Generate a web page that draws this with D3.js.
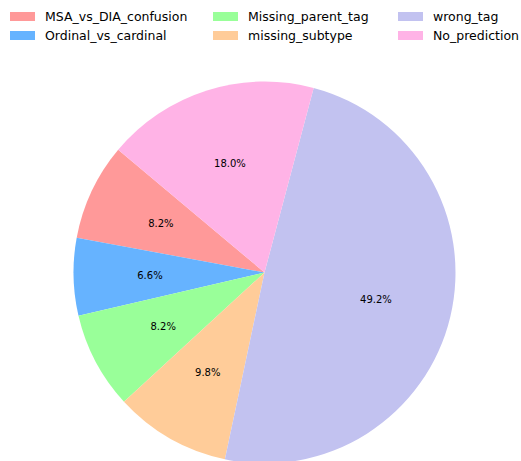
<!DOCTYPE html>
<html>
<head>
<meta charset="utf-8">
<script src="https://cdn.jsdelivr.net/npm/d3@7"></script>
<style>
  html, body { margin: 0; padding: 0; background: #fff; }
  svg { display: block; }
  text { font-family: "DejaVu Sans", sans-serif; }
</style>
</head>
<body>
<svg id="chart" width="521" height="461"></svg>
<script>
const categories = ["MSA_vs_DIA_confusion", "Ordinal_vs_cardinal", "Missing_parent_tag", "missing_subtype", "wrong_tag", "No_prediction"];
const counts = [5, 4, 5, 6, 30, 11];
const colors = ["#ff9999", "#66b3ff", "#99ff99", "#ffcc99", "#c2c2f0", "#ffb3e6"];
const startAngleDeg = 140; // matplotlib-style: from 3 o'clock, counterclockwise

const W = 521, H = 461;
const cx = 264.5, cy = 272.5, R = 191;

const svg = d3.select("#chart");
const data = categories.map((c, i) => ({ name: c, value: counts[i], color: colors[i] }));
const total = d3.sum(counts);

const toRad = d => d * Math.PI / 180;
const d3Start = toRad(90 - startAngleDeg);
const pie = d3.pie().sort(null).value(d => d.value)
  .startAngle(d3Start).endAngle(d3Start - 2 * Math.PI);
const arcs = pie(data);

const arc = d3.arc().innerRadius(0).outerRadius(R);
const labelArc = d3.arc().innerRadius(R * 0.6).outerRadius(R * 0.6);

const g = svg.append("g").attr("transform", `translate(${cx},${cy})`);
g.selectAll("path").data(arcs).enter().append("path")
  .attr("d", arc)
  .attr("fill", d => d.data.color);

g.selectAll("text.pct").data(arcs).enter().append("text")
  .attr("class", "pct")
  .attr("transform", d => `translate(${labelArc.centroid(d)})`)
  .attr("text-anchor", "middle")
  .attr("dominant-baseline", "central")
  .attr("font-size", "10px")
  .attr("fill", "#000")
  .text(d => (d.data.value / total * 100).toFixed(1) + "%");

// Legend: 3 columns x 2 rows, column-major
const colX = [10, 213, 398];
const rowY = [16.5, 35.5];
const leg = svg.append("g");
data.forEach((d, i) => {
  const col = Math.floor(i / 2), row = i % 2;
  const x = colX[col], y = rowY[row];
  leg.append("rect").attr("x", x).attr("y", y - 4.5).attr("width", 25).attr("height", 9).attr("fill", d.color);
  leg.append("text").attr("x", x + 35).attr("y", y)
    .attr("dominant-baseline", "central")
    .attr("font-size", "12.5px").attr("fill", "#000")
    .text(d.name);
});
</script>
</body>
</html>
